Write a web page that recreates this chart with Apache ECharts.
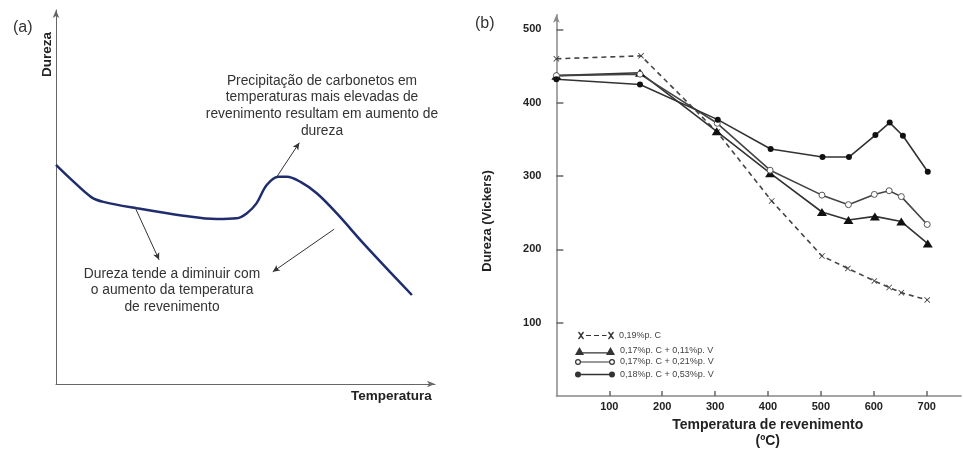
<!DOCTYPE html>
<html>
<head>
<meta charset="utf-8">
<script src="https://cdn.jsdelivr.net/npm/echarts@6/dist/echarts.min.js"></script>
<style>
  html, body { margin: 0; padding: 0; background: #ffffff; }
  #chart { width: 963px; height: 450px; }
</style>
</head>
<body>
<div id="chart"></div>
<script>
// ---- Panel (a): schematic hardness curve (arbitrary units) ----
const sketchTemp = [0, 3.7, 9.4, 12.5, 21.3, 33.6, 42.4, 47.7, 50.3, 52.9, 55.6, 58.7, 60.9, 64.4, 68.8, 74.1, 81.1, 88.1, 93.9];
const sketchHard = [58.6, 55.0, 49.9, 48.7, 47.0, 45.0, 44.1, 44.3, 45.6, 48.3, 53.2, 55.4, 55.4, 54.1, 51.0, 45.6, 37.6, 30.0, 23.8];

// annotation arrows for panel (a): [fromX, fromY, toX, toY] (arrowhead at "to")
const arrowPeak = [58.2, 55.3, 64.2, 64.5];
const arrowPlateau = [21.1, 46.7, 27.2, 33.2];
const arrowFall = [73.4, 41.4, 57.2, 30.0];

// ---- Panel (b): hardness (Vickers) vs tempering temperature (ºC) ----
const tempC19 = [0, 160, 304, 407, 502, 551, 601, 629, 652, 701];
const hv19    = [460, 464, 360, 266, 191, 174, 157, 148, 141, 131];

const tempV11 = [0, 158, 303, 404, 502, 552, 602, 652, 702];
const hvV11   = [437, 441, 361, 304, 251, 240, 245, 238, 208];

const tempV21 = [0, 158, 304, 404, 502, 552, 601, 629, 652, 701];
const hvV21   = [437, 439, 372, 308, 274, 261, 275, 280, 272, 234];

const tempV53 = [0, 158, 305, 405, 503, 553, 603, 630, 655, 702];
const hvV53   = [432, 425, 377, 337, 326, 326, 356, 373, 355, 306];

const seriesNames = ['0,19%p. C', '0,17%p. C + 0,11%p. V', '0,17%p. C + 0,21%p. V', '0,18%p. C + 0,53%p. V'];
const xTicks = [100, 200, 300, 400, 500, 600, 700];
const yTicks = [100, 200, 300, 400, 500];

const pairs = (xs, ys) => xs.map((x, i) => [x, ys[i]]);
const FONT = '"Liberation Sans", Arial, sans-serif';

// marker shapes
const crossPath = 'path://M0,1 L1,0 L5,4 L9,0 L10,1 L6,5 L10,9 L9,10 L5,6 L1,10 L0,9 L4,5 Z';
// legend keys: a line with a marker at each end
const keyCross = 'path://M0,1 L1,0 L3,2.6 L5,0 L6,1 L3.8,4 L6,7 L5,8 L3,5.4 L1,8 L0,7 L2.2,4 Z' +
  'M30,1 L31,0 L33,2.6 L35,0 L36,1 L33.8,4 L36,7 L35,8 L33,5.4 L31,8 L30,7 L32.2,4 Z' +
  'M8,3.5 L13,3.5 L13,4.6 L8,4.6 Z M16,3.5 L21,3.5 L21,4.6 L16,4.6 Z M24,3.5 L28.5,3.5 L28.5,4.6 L24,4.6 Z';
const keyTriangle = 'path://M0,8 L4.5,0 L9,8 Z M31,8 L35.5,0 L40,8 Z M4,5.2 L36,5.2 L36,6.6 L4,6.6 Z';
const keyRing = 'path://M0,4 A3,3 0 1,1 6,4 A3,3 0 1,1 0,4 Z M1.2,4 A1.8,1.8 0 1,0 4.8,4 A1.8,1.8 0 1,0 1.2,4 Z' +
  'M34,4 A3,3 0 1,1 40,4 A3,3 0 1,1 34,4 Z M35.2,4 A1.8,1.8 0 1,0 38.8,4 A1.8,1.8 0 1,0 35.2,4 Z' +
  'M6,3.4 L34,3.4 L34,4.6 L6,4.6 Z';
const keyDot = 'path://M0,4 A3,3 0 1,1 6,4 A3,3 0 1,1 0,4 Z M34,4 A3,3 0 1,1 40,4 A3,3 0 1,1 34,4 Z M5,3.3 L35,3.3 L35,4.7 L5,4.7 Z';

const legendRow = (name, icon, left, top, width) => ({
  data: [{ name: name, icon: icon }],
  left: left, top: top,
  itemWidth: width, itemHeight: 8, padding: 0, itemGap: 0,
  selectedMode: false,
  itemStyle: { color: '#333', borderWidth: 0, opacity: 1 },
  lineStyle: { width: 0 },
  textStyle: { fontFamily: FONT, fontSize: 9, color: '#444' }
});

const arrowLine = a => [
  { coord: [a[0], a[1]], symbol: 'none' },
  { coord: [a[2], a[3]], symbol: 'arrow', symbolSize: [5, 7] }
];

const chart = echarts.init(document.getElementById('chart'), null, { renderer: 'canvas' });

chart.setOption({
  animation: false,
  backgroundColor: '#ffffff',
  textStyle: { fontFamily: FONT },
  title: [
    { text: '(a)', left: 8, top: 15, textStyle: { fontFamily: FONT, fontSize: 16, fontWeight: 'normal', color: '#333' } },
    { text: '(b)', left: 470, top: 11, textStyle: { fontFamily: FONT, fontSize: 16, fontWeight: 'normal', color: '#333' } }
  ],
  legend: [
    legendRow(seriesNames[0], keyCross, 578, 331, 36),
    legendRow(seriesNames[1], keyTriangle, 575, 346.5, 40),
    legendRow(seriesNames[2], keyRing, 575, 357.5, 40),
    legendRow(seriesNames[3], keyDot, 575, 370, 40)
  ],
  grid: [
    { left: 56, top: 10, width: 379, height: 374, containLabel: false, outerBoundsMode: 'none' },
    { left: 556.4, top: 14.8, width: 404.7, height: 381.2, containLabel: false, outerBoundsMode: 'none' }
  ],
  xAxis: [
    {
      gridIndex: 0, type: 'value', min: 0, max: 100,
      axisLine: { show: true, lineStyle: { color: '#666', width: 1 }, symbol: ['none', 'arrow'], symbolSize: [5, 8] },
      axisTick: { show: false }, axisLabel: { show: false }, splitLine: { show: false }
    },
    {
      gridIndex: 1, type: 'value', min: 0, max: 765, interval: 100,
      axisLine: { show: true, onZero: false, lineStyle: { color: '#888', width: 1.5 } },
      axisTick: { show: true, inside: true, length: 5, customValues: xTicks, lineStyle: { color: '#666', width: 1.5 } },
      axisLabel: { customValues: xTicks, margin: 5, fontFamily: FONT, fontSize: 11, fontWeight: 'bold', color: '#222' },
      splitLine: { show: false },
      name: 'Temperatura de revenimento\n(ºC)', nameLocation: 'middle', nameGap: 21,
      nameTextStyle: { fontFamily: FONT, fontSize: 14, fontWeight: 'bold', color: '#222', lineHeight: 16, padding: [0, 0, 0, 18] }
    }
  ],
  yAxis: [
    {
      gridIndex: 0, type: 'value', min: 0, max: 100,
      axisLine: { show: true, lineStyle: { color: '#666', width: 1 }, symbol: ['none', 'arrow'], symbolSize: [5, 8] },
      axisTick: { show: false }, axisLabel: { show: false }, splitLine: { show: false }
    },
    {
      gridIndex: 1, type: 'value', min: 0, max: 520, interval: 100,
      axisLine: { show: true, onZero: false, lineStyle: { color: '#888', width: 1.5 }, symbol: ['none', 'arrow'], symbolSize: [5, 8] },
      axisTick: { show: true, inside: true, length: 7, customValues: yTicks, lineStyle: { color: '#666', width: 1.5 } },
      axisLabel: { customValues: yTicks, margin: 15, fontFamily: FONT, fontSize: 11, fontWeight: 'bold', color: '#222' },
      splitLine: { show: false },
      name: 'Dureza (Vickers)', nameLocation: 'middle', nameGap: 62, nameRotate: 90,
      nameTextStyle: { fontFamily: FONT, fontSize: 13, fontWeight: 'bold', color: '#222', padding: [0, 31, 0, 0] }
    }
  ],
  graphic: [
    { type: 'text', left: 40, top: 32, rotation: Math.PI / 2,
      style: { text: 'Dureza', font: 'bold 13.5px ' + FONT, fill: '#222' } },
    { type: 'text', left: 351, top: 389.5,
      style: { text: 'Temperatura', font: 'bold 13.5px ' + FONT, fill: '#222' } },
    { type: 'text', x: 322, y: 72.6,
      style: { text: 'Precipitação de carbonetos em\ntemperaturas mais elevadas de\nrevenimento resultam em aumento de\ndureza',
               font: '13.8px ' + FONT, fill: '#333', align: 'center', verticalAlign: 'top', lineHeight: 16.7 } },
    { type: 'text', x: 172, y: 265.6,
      style: { text: 'Dureza tende a diminuir com\no aumento da temperatura\nde revenimento',
               font: '13.8px ' + FONT, fill: '#333', align: 'center', verticalAlign: 'top', lineHeight: 16.5 } }
  ],
  series: [
    {
      name: 'sketch', type: 'line', xAxisIndex: 0, yAxisIndex: 0,
      data: pairs(sketchTemp, sketchHard),
      smooth: 0.35, showSymbol: false, silent: true,
      lineStyle: { color: '#1f2d6e', width: 2.5 },
      markLine: {
        silent: true, animation: false,
        symbol: ['none', 'arrow'],
        label: { show: false },
        lineStyle: { color: '#333', width: 1, type: 'solid' },
        data: [arrowLine(arrowPeak), arrowLine(arrowPlateau), arrowLine(arrowFall)]
      }
    },
    {
      name: seriesNames[0], type: 'line', xAxisIndex: 1, yAxisIndex: 1,
      data: pairs(tempC19, hv19),
      symbol: crossPath, symbolSize: 6,
      lineStyle: { color: '#444', width: 1.6, type: [5, 4] },
      itemStyle: { color: '#444' }
    },
    {
      name: seriesNames[1], type: 'line', xAxisIndex: 1, yAxisIndex: 1,
      data: pairs(tempV11, hvV11),
      symbol: 'triangle', symbolSize: [10, 8],
      lineStyle: { color: '#333', width: 1.6 },
      itemStyle: { color: '#111' }
    },
    {
      name: seriesNames[2], type: 'line', xAxisIndex: 1, yAxisIndex: 1,
      data: pairs(tempV21, hvV21),
      symbol: 'circle', symbolSize: 6,
      lineStyle: { color: '#444', width: 1.6 },
      itemStyle: { color: '#ffffff', borderColor: '#555', borderWidth: 1 }
    },
    {
      name: seriesNames[3], type: 'line', xAxisIndex: 1, yAxisIndex: 1,
      data: pairs(tempV53, hvV53),
      symbol: 'circle', symbolSize: 6,
      lineStyle: { color: '#333', width: 1.6 },
      itemStyle: { color: '#111' }
    }
  ]
});
</script>
</body>
</html>
